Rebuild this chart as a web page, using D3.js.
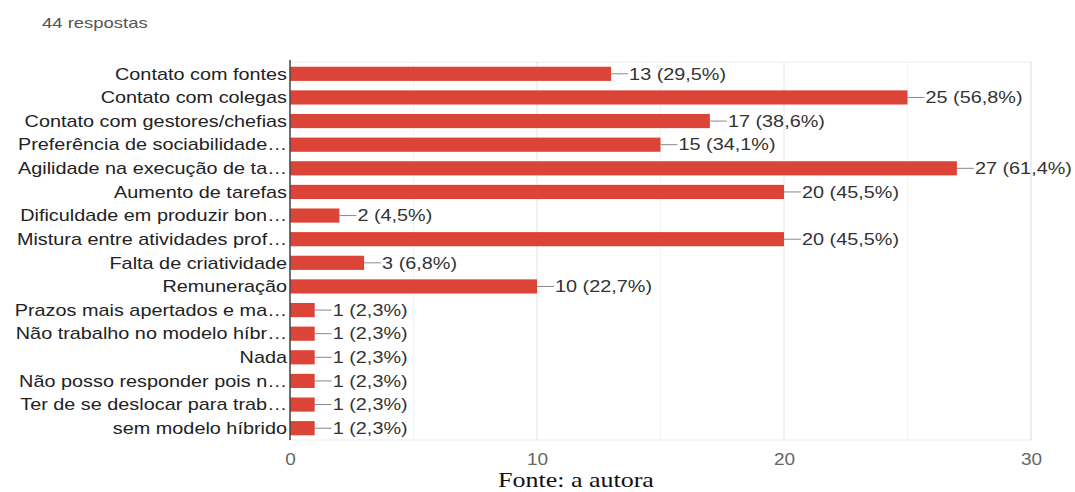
<!DOCTYPE html>
<html>
<head>
<meta charset="utf-8">
<script src="https://cdn.jsdelivr.net/npm/d3@7"></script>
<style>
  body { margin: 0; background: #fff; }
  svg { display: block; font-family: "Liberation Sans", Arial, sans-serif; }
</style>
</head>
<body>
<svg id="svg" width="1075" height="492"></svg>
<script>
const categories = [
  'Contato com fontes',
  'Contato com colegas',
  'Contato com gestores/chefias',
  'Preferência de sociabilidade…',
  'Agilidade na execução de ta…',
  'Aumento de tarefas',
  'Dificuldade em produzir bon…',
  'Mistura entre atividades prof…',
  'Falta de criatividade',
  'Remuneração',
  'Prazos mais apertados e ma…',
  'Não trabalho no modelo híbr…',
  'Nada',
  'Não posso responder pois n…',
  'Ter de se deslocar para trab…',
  'sem modelo híbrido'
];
const counts = [13, 25, 17, 15, 27, 20, 2, 20, 3, 10, 1, 1, 1, 1, 1, 1];
const percents = ['29,5', '56,8', '38,6', '34,1', '61,4', '45,5', '4,5', '45,5', '6,8', '22,7', '2,3', '2,3', '2,3', '2,3', '2,3', '2,3'];
const majorTicks = [0, 10, 20, 30];
const minorTicks = [5, 15, 25];

const plotLeft = 290, plotRight = 1031, plotTop = 62, plotBottom = 440;
const sx = 1.24; // picture text is stretched sideways
const svg = d3.select('#svg');

const x = d3.scaleLinear().domain([0, 30]).range([plotLeft, plotRight]);
const y = d3.scaleBand().domain(categories).range([plotTop, plotBottom]).paddingInner(0.4).paddingOuter(0.2);
const mid = i => y(categories[i]) + y.bandwidth() / 2;

svg.append('text')
  .attr('transform', `translate(42,28) scale(1.32,1)`)
  .attr('font-size', 14).attr('fill', '#555')
  .text('44 respostas');

// frame + grid
svg.append('rect')
  .attr('x', plotLeft).attr('y', plotTop)
  .attr('width', plotRight - plotLeft).attr('height', plotBottom - plotTop)
  .attr('fill', 'none').attr('stroke', '#ececec');

svg.selectAll('.minor').data(minorTicks).enter().append('line')
  .attr('x1', d => x(d)).attr('x2', d => x(d))
  .attr('y1', plotTop).attr('y2', plotBottom)
  .attr('stroke', '#f2f2f2');

svg.selectAll('.major').data(majorTicks.slice(1)).enter().append('line')
  .attr('x1', d => x(d)).attr('x2', d => x(d))
  .attr('y1', plotTop).attr('y2', plotBottom)
  .attr('stroke', '#e4e4e4');

const xAxis = svg.append('g')
  .attr('transform', `translate(0,${plotBottom})`)
  .call(d3.axisBottom(x).tickValues(majorTicks).tickSize(0).tickPadding(13));
xAxis.select('.domain').remove();
xAxis.selectAll('text')
  .attr('font-size', 16.5).attr('fill', '#666')
  .attr('font-family', '"Liberation Sans", Arial, sans-serif')
  .attr('transform', 'scale(1.15,1)');

// bars
svg.selectAll('.bar').data(counts).enter().append('rect')
  .attr('x', x(0))
  .attr('y', (d, i) => y(categories[i]))
  .attr('width', d => x(d) - x(0))
  .attr('height', y.bandwidth())
  .attr('fill', '#dd4438');

// category labels
svg.selectAll('.cat').data(categories).enter().append('text')
  .attr('transform', (d, i) => `translate(${plotLeft - 3},${mid(i)}) scale(${sx},1)`)
  .attr('dy', '0.36em')
  .attr('text-anchor', 'end')
  .attr('font-size', 16).attr('fill', '#222')
  .text(d => d);

// connector + value labels
svg.selectAll('.conn').data(counts).enter().append('line')
  .attr('x1', d => x(d)).attr('x2', d => x(d) + 17)
  .attr('y1', (d, i) => mid(i))
  .attr('y2', (d, i) => mid(i))
  .attr('stroke', '#888').attr('stroke-width', 1);

svg.selectAll('.val').data(counts).enter().append('text')
  .attr('transform', (d, i) => `translate(${x(d) + 18},${mid(i)}) scale(${sx},1)`)
  .attr('dy', '0.36em')
  .attr('font-size', 16).attr('fill', '#333')
  .text((d, i) => `${d} (${percents[i]}%)`);

// y axis line
svg.append('line')
  .attr('x1', plotLeft).attr('x2', plotLeft)
  .attr('y1', plotTop - 2).attr('y2', plotBottom)
  .attr('stroke', '#444').attr('stroke-width', 1.5);

svg.append('text')
  .attr('transform', 'translate(498,487) scale(1.3,1)')
  .attr('font-family', '"Liberation Serif", "Times New Roman", serif')
  .attr('font-size', 20).attr('fill', '#111')
  .text('Fonte: a autora');
</script>
</body>
</html>
